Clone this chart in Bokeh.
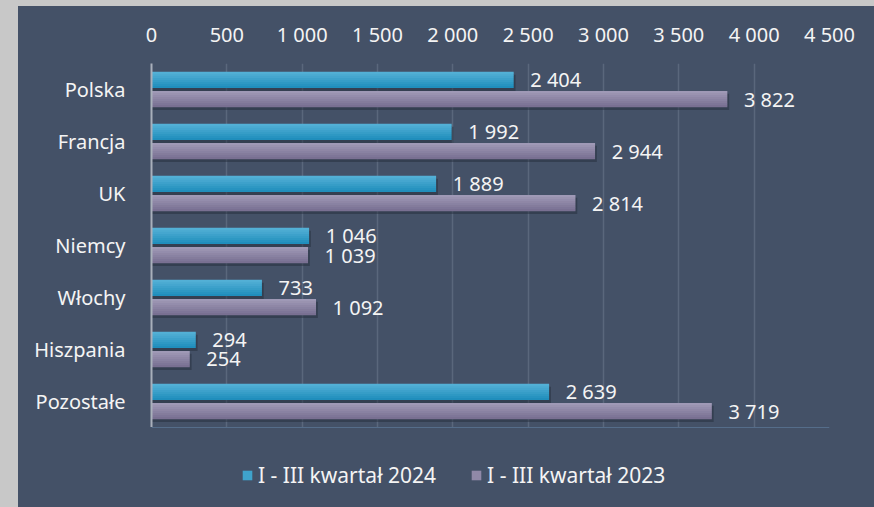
from bokeh.plotting import figure
from bokeh.layouts import column
from bokeh.models import FixedTicker, Legend, LegendItem, ColumnDataSource, FactorRange, Range1d
from bokeh.transform import dodge
from bokeh.embed import file_html
from bokeh.resources import INLINE

categories = ["Polska", "Francja", "UK", "Niemcy", "Włochy", "Hiszpania", "Pozostałe"]
values_2024 = [2404, 1992, 1889, 1046, 733, 294, 2639]
values_2023 = [3822, 2944, 2814, 1039, 1092, 254, 3719]
series_labels = ["I - III kwartał 2024", "I - III kwartał 2023"]
x_ticks = [0, 500, 1000, 1500, 2000, 2500, 3000, 3500, 4000, 4500]
x_tick_labels = ["0", "500", "1 000", "1 500", "2 000", "2 500", "3 000", "3 500", "4 000", "4 500"]

FONT = "Noto Sans"
BG = "#445167"
TXT = "#f4f4f4"


def fmt(v):
    return f"{v:,}".replace(",", " ")


def hexmix(c1, c2, t):
    a = [int(c1[i:i + 2], 16) for i in (1, 3, 5)]
    b = [int(c2[i:i + 2], 16) for i in (1, 3, 5)]
    return "#" + "".join(f"{round(x + (y - x) * t):02x}" for x, y in zip(a, b))


src = ColumnDataSource(dict(
    cat=categories,
    v24=values_2024,
    v23=values_2023,
    l24=[fmt(v) for v in values_2024],
    l23=[fmt(v) for v in values_2023],
))

p = figure(
    width=856, height=421,
    y_range=FactorRange(factors=list(reversed(categories))),
    x_range=Range1d(0, 4500),
    x_axis_location="above",
    output_backend="svg", toolbar_location=None,
    min_border_left=133, min_border_right=45, min_border_top=57, min_border_bottom=0,
)
# the panel colour comes from the layout background, so no seams appear at the frame edges
p.background_fill_color = BG
p.background_fill_alpha = 0
p.border_fill_color = BG
p.border_fill_alpha = 0
p.outline_line_color = None

H = 0.31
OFF = 0.183
N = 8
series = [
    ("v24", "l24", OFF, "#57b2d8", "#1c8cba"),
    ("v23", "l23", -OFF, "#a29cb8", "#766d90"),
]
for col, lab, off, ctop, cbot in series:
    # soft shadow
    p.hbar(y=dodge("cat", off - 0.055, range=p.y_range), left=0, right=dodge(col, 12),
           height=H, source=src, fill_color="#222a38", fill_alpha=0.45, line_color=None)
for col, lab, off, ctop, cbot in series:
    for i in range(N):
        t = (i + 0.5) / N
        c = hexmix(ctop, cbot, t)
        yc = off + H / 2 - (i + 0.5) * H / N
        p.hbar(y=dodge("cat", yc, range=p.y_range), left=0, right=col,
               height=H / N * 1.08, source=src, fill_color=c, line_color=None)
    p.text(x=dodge(col, 110), y=dodge("cat", off, range=p.y_range), text=lab, source=src,
           text_align="left", text_baseline="middle", text_color=TXT,
           text_font_size="20px", text_font={"value": FONT})

# axes
p.xaxis.ticker = FixedTicker(ticks=x_ticks)
p.xaxis.major_label_overrides = dict(zip(x_ticks, x_tick_labels))
p.xaxis.axis_line_color = None
p.xaxis.major_tick_line_color = None
p.xaxis.minor_tick_line_color = None
p.xaxis.major_label_text_font = FONT
p.xaxis.major_label_text_font_size = "20px"
p.xaxis.major_label_text_color = TXT
p.xaxis.major_label_standoff = 10

p.yaxis.axis_line_color = "#a9b0bb"
p.yaxis.axis_line_width = 2
p.yaxis.major_tick_line_color = None
p.yaxis.minor_tick_line_color = None
p.yaxis.major_label_text_font = FONT
p.yaxis.major_label_text_font_size = "20px"
p.yaxis.major_label_text_color = TXT
p.yaxis.major_label_standoff = 20

p.xgrid.grid_line_color = "#5a677c"
p.xgrid.grid_line_width = 1.5
p.ygrid.grid_line_color = None
p.y_range.range_padding = 0

# legend strip below the chart
p2 = figure(width=856, height=80, x_range=Range1d(0, 1), y_range=Range1d(0, 1),
            output_backend="svg", toolbar_location=None,
            min_border_left=0, min_border_right=0, min_border_top=0, min_border_bottom=0)
p2.background_fill_color = BG
p2.background_fill_alpha = 0
p2.border_fill_color = BG
p2.border_fill_alpha = 0
p2.outline_line_color = None
p2.xaxis.visible = False
p2.yaxis.visible = False
p2.grid.grid_line_color = None
legend_colors = [hexmix(s[3], s[4], 0.4) for s in series]
# swatch renderers kept outside the visible range; only their legend glyphs show
lr = [p2.hbar(y=[5], right=[1], height=0.1, fill_color=c, line_color=None) for c in legend_colors]
legend = Legend(items=[LegendItem(label=series_labels[0], renderers=[lr[0]]),
                       LegendItem(label=series_labels[1], renderers=[lr[1]])],
                orientation="horizontal", location=(90, 18))
legend.background_fill_alpha = 0
legend.border_line_color = None
legend.label_text_font = FONT
legend.label_text_font_size = "21px"
legend.label_text_color = TXT
legend.glyph_width = 12
legend.glyph_height = 12
legend.label_standoff = 5
legend.spacing = 34
legend.margin = 0
legend.padding = 0
p2.add_layout(legend, "center")

layout = column(p, p2, spacing=0)
layout.margin = (6, 0, 0, 18)
layout.styles = {"background-color": BG}

html = file_html(layout, INLINE)
html = html.replace("</head>", "<style>html, body { background: #c8c8c8 !important; overflow: hidden; }</style></head>", 1)
open("out.html", "w").write(html)
